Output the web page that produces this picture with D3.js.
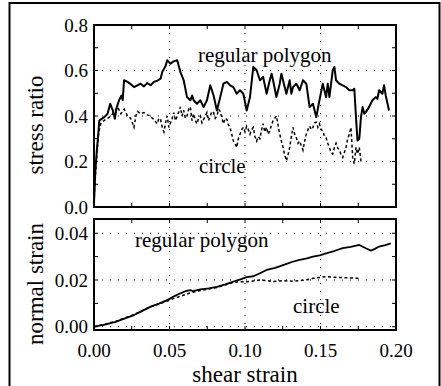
<!DOCTYPE html>
<html>
<head>
<meta charset="utf-8">
<script src="https://cdn.jsdelivr.net/npm/d3@7/dist/d3.min.js"></script>
<style>
  html, body { margin: 0; padding: 0; background: #fff; }
  svg { display: block; }
</style>
</head>
<body>
<svg id="chart" width="441" height="386"></svg>
<script>
// ---------- data ----------
const topShearPolygon = [0, 0.0009, 0.002, 0.0026, 0.0035, 0.0046, 0.0068, 0.009, 0.0107, 0.0125, 0.0138, 0.0151, 0.0166, 0.0182, 0.019, 0.0199, 0.0222, 0.0243, 0.0265, 0.0287, 0.0309, 0.0331, 0.0353, 0.0375, 0.0397, 0.0419, 0.0441, 0.0452, 0.0474, 0.0485, 0.0495, 0.0507, 0.0526, 0.0551, 0.0572, 0.0594, 0.0616, 0.0638, 0.065, 0.066, 0.0682, 0.0704, 0.0726, 0.0748, 0.077, 0.0792, 0.0814, 0.0836, 0.0857, 0.088, 0.0901, 0.0923, 0.0945, 0.0967, 0.0989, 0.1011, 0.1033, 0.1055, 0.1077, 0.1099, 0.112, 0.1143, 0.1164, 0.1176, 0.1186, 0.1208, 0.123, 0.1241, 0.1263, 0.1274, 0.1296, 0.1307, 0.1318, 0.134, 0.1362, 0.1384, 0.1406, 0.1428, 0.145, 0.1472, 0.1493, 0.1515, 0.1537, 0.1548, 0.1559, 0.1581, 0.1592, 0.1603, 0.1625, 0.1647, 0.1669, 0.1691, 0.1713, 0.1724, 0.1735, 0.1745, 0.1757, 0.1768, 0.1779, 0.179, 0.18, 0.1822, 0.1844, 0.1866, 0.1877, 0.1888, 0.191, 0.1921, 0.1932, 0.1954];
const stressPolygon = [0.02, 0.16, 0.26, 0.30, 0.38, 0.385, 0.395, 0.41, 0.454, 0.424, 0.388, 0.439, 0.469, 0.49, 0.47, 0.557, 0.55, 0.54, 0.527, 0.535, 0.542, 0.53, 0.545, 0.535, 0.55, 0.555, 0.564, 0.594, 0.62, 0.645, 0.638, 0.63, 0.64, 0.645, 0.594, 0.557, 0.483, 0.469, 0.49, 0.469, 0.454, 0.469, 0.439, 0.469, 0.535, 0.49, 0.424, 0.483, 0.542, 0.55, 0.535, 0.527, 0.498, 0.513, 0.498, 0.424, 0.483, 0.616, 0.601, 0.557, 0.572, 0.498, 0.557, 0.586, 0.557, 0.483, 0.542, 0.586, 0.527, 0.498, 0.557, 0.498, 0.527, 0.542, 0.513, 0.557, 0.542, 0.439, 0.454, 0.395, 0.469, 0.542, 0.483, 0.542, 0.483, 0.601, 0.616, 0.557, 0.542, 0.535, 0.527, 0.513, 0.513, 0.52, 0.395, 0.292, 0.30, 0.395, 0.439, 0.41, 0.417, 0.44, 0.469, 0.483, 0.476, 0.513, 0.498, 0.535, 0.49, 0.424];

const topShearCircle = [0, 0.0009, 0.002, 0.003, 0.0046, 0.0079, 0.0112, 0.0134, 0.0156, 0.0178, 0.020, 0.0222, 0.0243, 0.0254, 0.0265, 0.0277, 0.0288, 0.0309, 0.0331, 0.0353, 0.0375, 0.0386, 0.0397, 0.0408, 0.0419, 0.043, 0.0441, 0.0452, 0.0463, 0.0474, 0.0485, 0.0496, 0.0507, 0.0518, 0.0528, 0.054, 0.0551, 0.0562, 0.0572, 0.0583, 0.0594, 0.0605, 0.0616, 0.0627, 0.0638, 0.0649, 0.066, 0.0671, 0.0682, 0.0693, 0.0704, 0.0715, 0.0726, 0.0737, 0.0748, 0.0759, 0.077, 0.0781, 0.0792, 0.0803, 0.0814, 0.0825, 0.0836, 0.0847, 0.0857, 0.0868, 0.088, 0.0891, 0.0901, 0.0912, 0.0923, 0.0934, 0.0945, 0.0956, 0.0967, 0.0978, 0.0989, 0.1, 0.1011, 0.1022, 0.1033, 0.1044, 0.1055, 0.1066, 0.1077, 0.1088, 0.1099, 0.111, 0.112, 0.1131, 0.1143, 0.1154, 0.1164, 0.1175, 0.1186, 0.1197, 0.1208, 0.1219, 0.123, 0.1241, 0.1252, 0.1263, 0.1274, 0.1285, 0.1296, 0.1307, 0.1318, 0.1329, 0.134, 0.1351, 0.1362, 0.1373, 0.1384, 0.1395, 0.1406, 0.1417, 0.1428, 0.1439, 0.145, 0.1461, 0.1472, 0.1483, 0.1493, 0.1504, 0.1515, 0.1526, 0.1537, 0.1548, 0.1559, 0.157, 0.1581, 0.1592, 0.1603, 0.1614, 0.1625, 0.1636, 0.1647, 0.1658, 0.1669, 0.168, 0.1691, 0.1702, 0.1713, 0.1724, 0.1735, 0.1745, 0.1757, 0.1768];
const stressCircle = [0.02, 0.14, 0.24, 0.32, 0.37, 0.385, 0.40, 0.42, 0.44, 0.41, 0.43, 0.40, 0.39, 0.37, 0.35, 0.40, 0.42, 0.41, 0.415, 0.405, 0.40, 0.39, 0.385, 0.375, 0.366, 0.39, 0.385, 0.35, 0.33, 0.37, 0.40, 0.35, 0.37, 0.39, 0.415, 0.38, 0.40, 0.42, 0.44, 0.40, 0.425, 0.39, 0.40, 0.43, 0.44, 0.38, 0.41, 0.38, 0.366, 0.39, 0.40, 0.37, 0.385, 0.40, 0.415, 0.38, 0.40, 0.42, 0.415, 0.39, 0.40, 0.43, 0.42, 0.39, 0.366, 0.39, 0.385, 0.36, 0.35, 0.32, 0.29, 0.28, 0.262, 0.30, 0.32, 0.34, 0.35, 0.33, 0.355, 0.34, 0.32, 0.34, 0.35, 0.31, 0.29, 0.31, 0.30, 0.34, 0.366, 0.33, 0.35, 0.32, 0.335, 0.36, 0.38, 0.39, 0.40, 0.36, 0.32, 0.29, 0.262, 0.23, 0.203, 0.23, 0.262, 0.31, 0.35, 0.32, 0.305, 0.28, 0.29, 0.27, 0.25, 0.29, 0.32, 0.34, 0.355, 0.34, 0.35, 0.37, 0.373, 0.35, 0.366, 0.34, 0.335, 0.31, 0.305, 0.28, 0.262, 0.24, 0.233, 0.26, 0.28, 0.26, 0.25, 0.23, 0.218, 0.24, 0.262, 0.30, 0.32, 0.35, 0.218, 0.19, 0.262, 0.233, 0.262, 0.20];

const botShearPolygon = [0, 0.0072, 0.0143, 0.0205, 0.0265, 0.032, 0.0375, 0.043, 0.0485, 0.053, 0.0572, 0.0605, 0.0638, 0.0655, 0.0704, 0.076, 0.0814, 0.087, 0.0923, 0.097, 0.1011, 0.1055, 0.1099, 0.1143, 0.12, 0.1252, 0.131, 0.1362, 0.141, 0.145, 0.1495, 0.1537, 0.159, 0.1647, 0.17, 0.1757, 0.18, 0.1833, 0.186, 0.1888, 0.193, 0.1965];
const normalPolygon = [0.0, 0.0009, 0.0021, 0.0036, 0.005, 0.0068, 0.0086, 0.0099, 0.0114, 0.013, 0.0143, 0.0152, 0.0157, 0.0152, 0.016, 0.0164, 0.0171, 0.0181, 0.0193, 0.0203, 0.0212, 0.0216, 0.0229, 0.0243, 0.0252, 0.0264, 0.0277, 0.0286, 0.0293, 0.030, 0.0305, 0.0314, 0.0324, 0.0336, 0.0342, 0.035, 0.0336, 0.0326, 0.0333, 0.0343, 0.0349, 0.0357];

const botShearCircle = [0, 0.0072, 0.0143, 0.0205, 0.0265, 0.032, 0.0375, 0.043, 0.0485, 0.053, 0.0572, 0.0638, 0.0704, 0.0814, 0.0923, 0.0967, 0.1011, 0.1055, 0.1099, 0.1143, 0.1186, 0.1252, 0.131, 0.1362, 0.141, 0.145, 0.1495, 0.1537, 0.159, 0.1647, 0.17, 0.1757];
const normalCircle = [0.0, 0.0011, 0.0023, 0.0038, 0.0052, 0.0069, 0.0085, 0.0097, 0.011, 0.0122, 0.013, 0.0145, 0.0155, 0.0168, 0.019, 0.0193, 0.0192, 0.0196, 0.0200, 0.0198, 0.0193, 0.0197, 0.0195, 0.0197, 0.0201, 0.0207, 0.0211, 0.0214, 0.0212, 0.021, 0.0209, 0.0207];

const xTickLabels = ["0.00", "0.05", "0.10", "0.15", "0.20"];
const xTicks = [0, 0.05, 0.10, 0.15, 0.20];
const topYTicks = [0, 0.2, 0.4, 0.6, 0.8];
const topYTickLabels = ["0.0", "0.2", "0.4", "0.6", "0.8"];
const botYTicks = [0, 0.02, 0.04];
const botYTickLabels = ["0.00", "0.02", "0.04"];

// ---------- drawing ----------
const FONT = "'Liberation Serif', 'Times New Roman', 'DejaVu Serif', serif";
const svg = d3.select("#chart").attr("font-family", FONT);
svg.append("rect").attr("x", 0).attr("y", 0).attr("width", 441).attr("height", 386).attr("fill", "#fff");
// outer frame
svg.append("rect").attr("x", 9.5).attr("y", 3).attr("width", 430).attr("height", 392)
  .attr("fill", "none").attr("stroke", "#000").attr("stroke-width", 2);

const L = 94, R = 396;
const x = d3.scaleLinear().domain([0, 0.2]).range([L, R]);
const yTop = d3.scaleLinear().domain([0, 0.8]).range([207, 25]);
const yBot = d3.scaleLinear().domain([-0.0014, 0.0461]).range([330, 219]);

function panel(y, yTicks, yLabels, minorY, gridY) {
  const g = svg.append("g");
  const [y0, y1] = y.range();
  g.selectAll(".gx").data([0.05, 0.10, 0.15]).join("line")
    .attr("x1", d => x(d)).attr("x2", d => x(d)).attr("y1", y1).attr("y2", y0)
    .attr("stroke", "#000").attr("stroke-width", 1).attr("stroke-dasharray", "1,7");
  g.selectAll(".gy").data(gridY).join("line")
    .attr("y1", d => y(d)).attr("y2", d => y(d)).attr("x1", L).attr("x2", R)
    .attr("stroke", "#000").attr("stroke-width", 1).attr("stroke-dasharray", "1,7");
  const xMinor = d3.range(0, 0.2001, 0.025);
  g.selectAll(".tb").data(xMinor).join("line")
    .attr("x1", d => x(d)).attr("x2", d => x(d)).attr("y1", y0).attr("y2", y0 - 4)
    .attr("stroke", "#000").attr("stroke-width", 1);
  g.selectAll(".tt").data(xMinor).join("line")
    .attr("x1", d => x(d)).attr("x2", d => x(d)).attr("y1", y1).attr("y2", y1 + 4)
    .attr("stroke", "#000").attr("stroke-width", 1);
  g.selectAll(".tl").data(minorY).join("line")
    .attr("y1", d => y(d)).attr("y2", d => y(d)).attr("x1", L).attr("x2", L + 4)
    .attr("stroke", "#000").attr("stroke-width", 1);
  g.selectAll(".tr").data(minorY).join("line")
    .attr("y1", d => y(d)).attr("y2", d => y(d)).attr("x1", R).attr("x2", R - 4)
    .attr("stroke", "#000").attr("stroke-width", 1);
  g.selectAll(".yl").data(yTicks).join("text")
    .attr("x", L - 6).attr("y", d => y(d)).attr("dy", "0.35em")
    .attr("text-anchor", "end").attr("font-size", 19).attr("font-family", FONT)
    .text((d, i) => yLabels[i]);
  return g;
}

const gTop = panel(yTop, topYTicks, topYTickLabels, d3.range(0, 0.801, 0.1), [0.2, 0.4, 0.6]);
const gBot = panel(yBot, botYTicks, botYTickLabels, d3.range(0, 0.0461, 0.01), [0, 0.02, 0.04]);

gBot.selectAll(".xl").data(xTicks).join("text")
  .attr("x", d => x(d)).attr("y", 357).attr("text-anchor", "middle").attr("font-size", 19)
  .attr("font-family", FONT)
  .text((d, i) => xTickLabels[i]);

const lineTop = d3.line().x(d => x(d[0])).y(d => yTop(d[1]));
const lineBot = d3.line().x(d => x(d[0])).y(d => yBot(d[1]));

svg.append("path").datum(topShearCircle.map((s, i) => [s, stressCircle[i]]))
  .attr("d", lineTop).attr("fill", "none").attr("stroke", "#000")
  .attr("stroke-width", 1.5).attr("stroke-dasharray", "3,2.5");
svg.append("path").datum(topShearPolygon.map((s, i) => [s, stressPolygon[i]]))
  .attr("d", lineTop).attr("fill", "none").attr("stroke", "#000")
  .attr("stroke-width", 2).attr("stroke-linejoin", "round");

svg.append("path").datum(botShearCircle.map((s, i) => [s, normalCircle[i]]))
  .attr("d", lineBot).attr("fill", "none").attr("stroke", "#000")
  .attr("stroke-width", 1.5).attr("stroke-dasharray", "3,2.5");
svg.append("path").datum(botShearPolygon.map((s, i) => [s, normalPolygon[i]]))
  .attr("d", lineBot).attr("fill", "none").attr("stroke", "#000")
  .attr("stroke-width", 1.8).attr("stroke-linejoin", "round");

[yTop, yBot].forEach(y => {
  const [y0, y1] = y.range();
  svg.append("rect").attr("x", L).attr("y", y1).attr("width", R - L).attr("height", y0 - y1)
    .attr("fill", "none").attr("stroke", "#000").attr("stroke-width", 2);
});

function label(xp, yp, size, txt, anchor, transform) {
  const t = svg.append("text").attr("font-family", FONT).attr("font-size", size)
    .attr("fill", "#000").attr("text-anchor", anchor || "start").text(txt);
  if (transform) t.attr("transform", transform); else t.attr("x", xp).attr("y", yp);
  return t;
}
label(198, 62, 21, "regular polygon");
label(199, 173, 21, "circle");
label(135, 247, 21, "regular polygon");
label(293, 313, 21, "circle");
label(0, 0, 23, "stress ratio", "middle", "translate(43,125) rotate(-90)");
label(0, 0, 23, "normal strain", "middle", "translate(43,284) rotate(-90)");
label(245, 382, 23, "shear strain", "middle");
</script>
</body>
</html>
